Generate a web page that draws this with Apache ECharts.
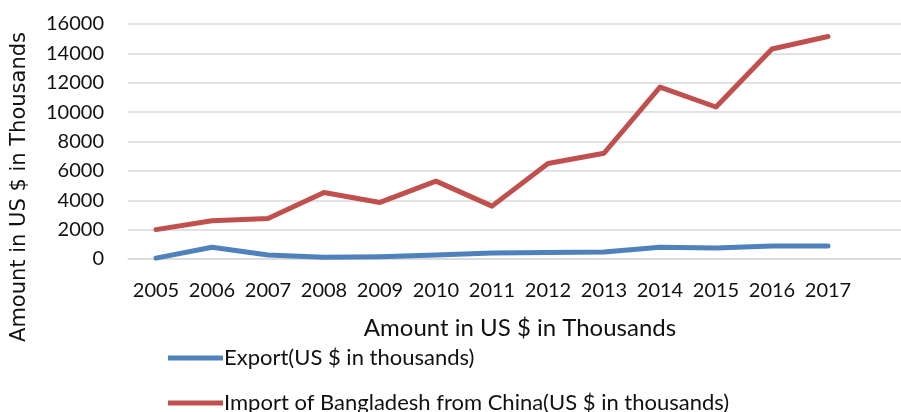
<!DOCTYPE html>
<html><head><meta charset="utf-8">
<script src="https://cdn.jsdelivr.net/npm/echarts@6/dist/echarts.min.js"></script>
<style>html,body{margin:0;padding:0;background:#fff}#c{width:901px;height:412px}</style>
</head><body><div id="c"></div>
<script>
const years = ['2005','2006','2007','2008','2009','2010','2011','2012','2013','2014','2015','2016','2017'];
const exportVals = [60, 800, 270, 115, 160, 270, 410, 440, 480, 800, 750, 880, 880];
const importVals = [2000, 2600, 2750, 4530, 3850, 5300, 3600, 6500, 7200, 11700, 10350, 14300, 15150];
const yTicks = {min: 0, max: 16000, interval: 2000};
const axisTitle = 'Amount in US $ in Thousands';
const exportName = 'Export(US $ in thousands)';
const importName = 'Import of Bangladesh from China(US $ in thousands)';

const chart = echarts.init(document.getElementById('c'), null, {renderer: 'canvas'});
const font = 'Lato, "Open Sans", sans-serif';
const legendBase = {
  orient: 'vertical', left: 163, itemWidth: 55, itemHeight: 5, icon: 'rect',
  textStyle: {fontFamily: font, fontSize: 22, color: '#111', padding: [0,0,0,-4]}
};
chart.setOption({
  animation: false,
  backgroundColor: '#fff',
  grid: {left: 128, top: 24, bottom: 153, width: 784, outerBoundsMode: 'none', containLabel: false},
  legend: [
    Object.assign({}, legendBase, {top: 342, data: [exportName]}),
    Object.assign({}, legendBase, {top: 387, data: [importName]})
  ],
  xAxis: {
    type: 'category', data: years.concat(['']), boundaryGap: true,
    axisLine: {lineStyle: {color: '#d9d9d9', width: 1.5}},
    axisTick: {show: false},
    axisLabel: {fontFamily: font, fontSize: 20, color: '#111', margin: 22, interval: 0},
    name: axisTitle, nameLocation: 'middle', nameGap: 57,
    nameTextStyle: {fontFamily: font, fontSize: 24, color: '#111'}
  },
  yAxis: {
    type: 'value', min: yTicks.min, max: yTicks.max, interval: yTicks.interval,
    axisLine: {show: false}, axisTick: {show: false},
    splitLine: {lineStyle: {color: '#d9d9d9', width: 1.5}},
    axisLabel: {fontFamily: font, fontSize: 20, color: '#111', margin: 24, formatter: v => String(v)}
  },
  graphic: [{
    type: 'text', x: 20, y: 187, rotation: Math.PI / 2,
    style: {text: axisTitle, font: '21px "DejaVu Sans", sans-serif', fill: '#111', align: 'center', verticalAlign: 'middle'}
  }],
  series: [
    {name: exportName, type: 'line', data: exportVals, symbol: 'none', color: '#4F81BD',
     lineStyle: {width: 5, cap: 'round', join: 'round'}},
    {name: importName, type: 'line', data: importVals, symbol: 'none', color: '#C0504D',
     lineStyle: {width: 5, cap: 'round', join: 'round'}}
  ]
});
</script></body></html>
